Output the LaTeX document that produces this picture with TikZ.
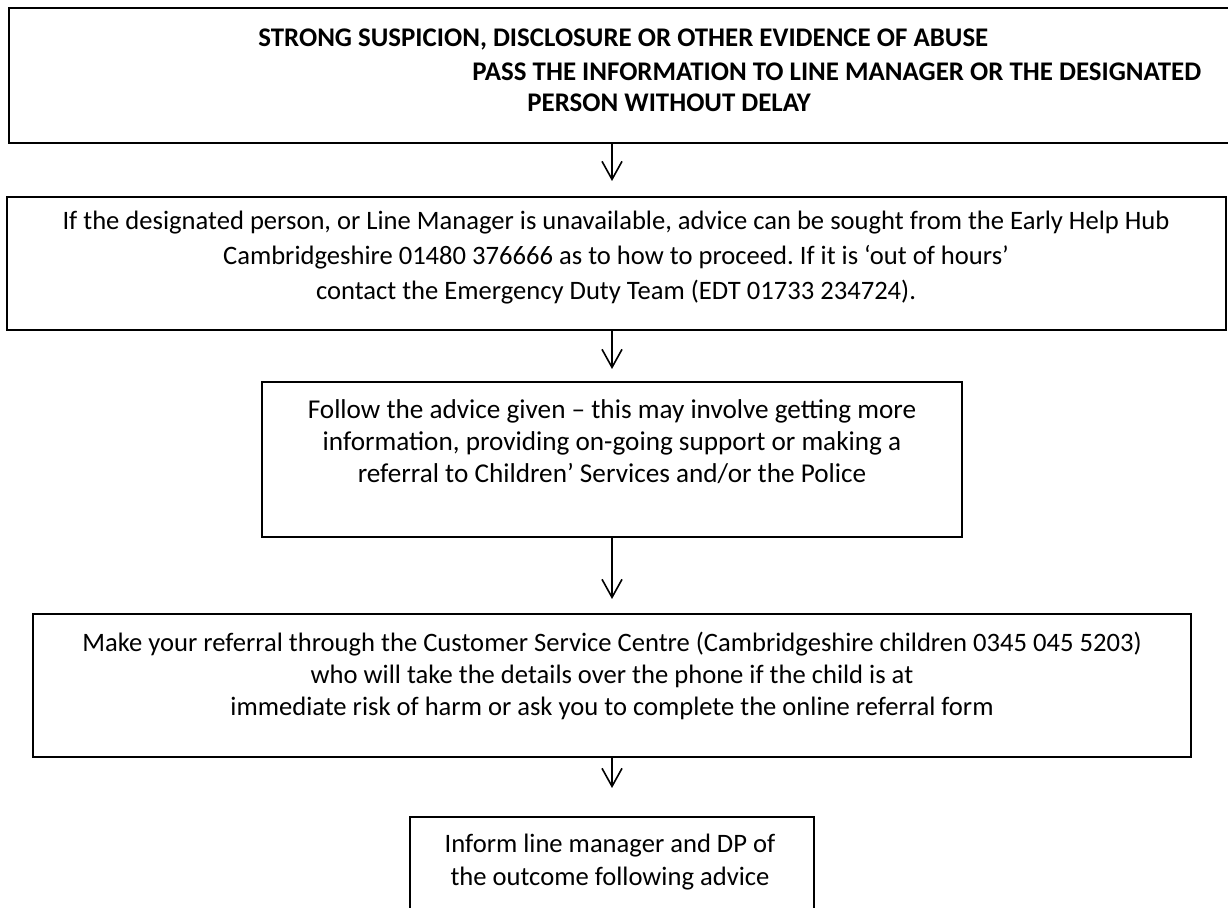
\documentclass[tikz,border=0pt]{standalone}
\usepackage{fontspec}
\setmainfont{Carlito}
\usetikzlibrary{arrows.meta}
\begin{document}
\frenchspacing
\begin{tikzpicture}[x=0.5pt,y=-0.5pt,
  boxline/.style={draw=black, line width=1pt},
  txt/.style={inner sep=0pt, align=center, font=\fontsize{13.3}{16.2}\selectfont},
  btxt/.style={inner sep=0pt, anchor=west, font=\fontsize{13.45}{16.2}\selectfont\bfseries},
  flow/.style={draw=black, line width=0.8pt, -{Straight Barb[length=9pt,width=10pt,line width=0.8pt]}}]
\useasboundingbox (0,0) rectangle (1228,908);
\begin{scope}
\clip (0,0) rectangle (1228,908);
% boxes
\draw[boxline] (9,8) rectangle (1240,143);
\draw[boxline] (7,197) rectangle (1226,330);
\draw[boxline] (262,382) rectangle (962,537);
\draw[boxline] (33,614) rectangle (1191,757);
\draw[boxline] (410,817) rectangle (814,930);
\end{scope}
\coordinate (b1s) at (612,143);
\coordinate (b2s) at (612,330);
\coordinate (b3s) at (612,537);
\coordinate (b4s) at (612,757);
% texts
\node[btxt] (t1a) at (258,40) {STRONG SUSPICION, DISCLOSURE OR OTHER EVIDENCE OF ABUSE};
\node[btxt] (t1b) at (472,72) {PASS THE INFORMATION TO LINE MANAGER OR THE DESIGNATED};
\node[btxt] (t1c) at (527,103) {PERSON WITHOUT DELAY};
\node[txt, font=\fontsize{13.3}{17.5}\selectfont] (t2) at (616,258) {If the designated person, or Line Manager is unavailable, advice can be sought from the Early Help Hub\\Cambridgeshire 01480 376666 as to how to proceed. If it is ‘out of hours’\\contact the Emergency Duty Team (EDT 01733 234724).};
\node[txt, font=\fontsize{13.6}{16}\selectfont] (t3) at (612,442) {Follow the advice given – this may involve getting more\\information, providing on-going support or making a\\referral to Children’ Services and/or the Police};
\node[txt] (t4) at (612,676) {Make your referral through the Customer Service Centre (Cambridgeshire children 0345 045 5203)\\who will take the details over the phone if the child is at\\immediate risk of harm or ask you to complete the online referral form};
\node[txt] (t5) at (610,862) {Inform line manager and DP of\\the outcome following advice};
% arrows
\coordinate (a1) at (612,181);
\coordinate (a2) at (612,369);
\coordinate (a3) at (612,599);
\coordinate (a4) at (612,788);
\draw[flow] (b1s) -- (a1);
\draw[flow] (b2s) -- (a2);
\draw[flow] (b3s) -- (a3);
\draw[flow] (b4s) -- (a4);
\end{tikzpicture}
\end{document}
